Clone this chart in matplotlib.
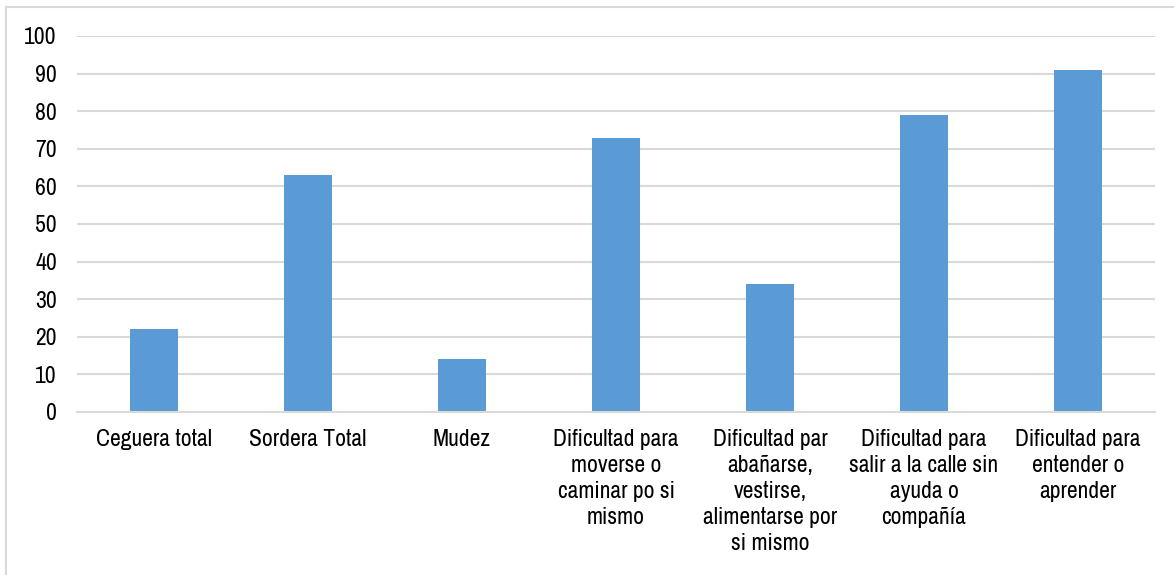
import matplotlib
matplotlib.use("Agg")
import matplotlib.pyplot as plt
from matplotlib import font_manager
from matplotlib.lines import Line2D

categories = [
    "Ceguera total",
    "Sordera Total",
    "Mudez",
    "Dificultad para\nmoverse o\ncaminar po si\nmismo",
    "Dificultad par\nabañarse,\nvestirse,\nalimentarse por\nsi mismo",
    "Dificultad para\nsalir a la calle sin\nayuda o\ncompañía",
    "Dificultad para\nentender o\naprender",
]
values = [22, 63, 14, 73, 34, 79, 91]
yticks = list(range(0, 101, 10))

names = {f.name for f in font_manager.fontManager.ttflist}
fam = "Liberation Sans"
for cand in ["Liberation Sans Narrow", "Arial Narrow", "Archivo Narrow", "PT Sans Narrow", "Roboto Condensed"]:
    if cand in names:
        fam = cand
        break
plt.rcParams['font.family'] = [fam, 'DejaVu Sans']

W, H = 1174, 575
FS = 17
fig = plt.figure(figsize=(W/100, H/100), dpi=100)
ax = fig.add_axes([77/W, 1 - 412/H, (1155-77)/W, (412-36)/H])

x = list(range(len(categories)))
ax.bar(x, values, width=0.31, color="#5b9bd5", zorder=3)
ax.set_xlim(-0.5, len(categories) - 0.5)
ax.set_ylim(0, 100)
ax.set_yticks(yticks)
ax.set_yticklabels([str(t) for t in yticks], fontsize=FS, color="#000000")
ax.set_xticks(x)
ax.set_xticklabels(categories, fontsize=FS, color="#000000", linespacing=1.3, va="top")
ax.tick_params(axis="both", length=0)
ax.tick_params(axis="y", pad=14.5)
ax.tick_params(axis="x", pad=12)
ax.grid(axis="y", color="#d9d9d9", linewidth=1.5, zorder=0)
for s in ["top", "right", "left"]:
    ax.spines[s].set_visible(False)
ax.spines["bottom"].set_color("#d9d9d9")
ax.spines["bottom"].set_linewidth(1.5)
ax.spines["bottom"].set_zorder(4)

# outer chart frame (partially cropped)
fig.add_artist(Line2D([6/W, 6/W], [0, 1 - 7/H], color="#d9d9d9", lw=1.5, transform=fig.transFigure))
fig.add_artist(Line2D([6/W, 1], [1 - 7/H, 1 - 7/H], color="#d9d9d9", lw=1.5, transform=fig.transFigure))

fig.savefig("out.png", dpi=100)
